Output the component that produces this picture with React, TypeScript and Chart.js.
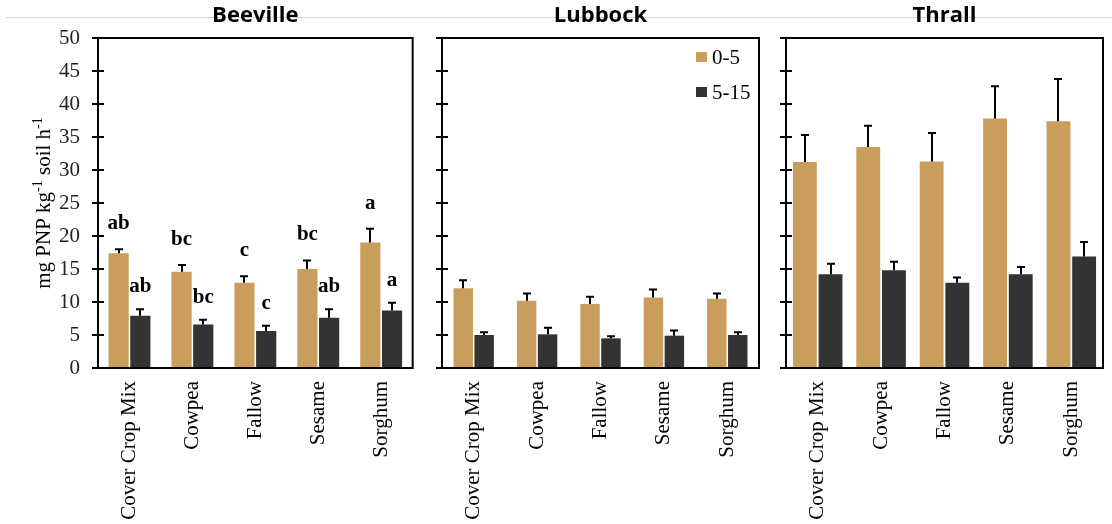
import React, { useEffect, useRef } from 'react';
import { Chart, registerables } from 'chart.js';

Chart.register(...registerables);

const categories = ['Cover Crop Mix', 'Cowpea', 'Fallow', 'Sesame', 'Sorghum'];
const depthLabels = ['0-5', '5-15'];
const yTicks = [0, 5, 10, 15, 20, 25, 30, 35, 40, 45, 50];

const beeville05 = [17.4, 14.6, 12.9, 15.0, 19.0];
const beeville05Err = [0.6, 1.0, 1.0, 1.3, 2.1];
const beeville515 = [7.9, 6.6, 5.6, 7.6, 8.7];
const beeville515Err = [1.0, 0.7, 0.8, 1.3, 1.2];
const beeville05Letters = ['ab', 'bc', 'c', 'bc', 'a'];
const beeville515Letters = ['ab', 'bc', 'c', 'ab', 'a'];

const lubbock05 = [12.1, 10.2, 9.7, 10.7, 10.5];
const lubbock05Err = [1.2, 1.1, 1.1, 1.2, 0.8];
const lubbock515 = [5.0, 5.1, 4.5, 4.9, 5.0];
const lubbock515Err = [0.4, 1.0, 0.3, 0.8, 0.4];

const thrall05 = [31.2, 33.5, 31.3, 37.8, 37.4];
const thrall05Err = [4.1, 3.2, 4.3, 4.9, 6.4];
const thrall515 = [14.2, 14.8, 12.9, 14.2, 16.9];
const thrall515Err = [1.6, 1.3, 0.8, 1.1, 2.2];

const TAN = '#C99D5C';
const DARK = '#333333';
const SERIF = '"Liberation Serif", "Times New Roman", serif';
const SANS = '"Open Sans", "Noto Sans", sans-serif';

type PanelProps = {
  title: string;
  left: number;
  width: number;
  yAxisWidth: number;
  padRight: number;
  catPct: number;
  v05: number[];
  e05: number[];
  v515: number[];
  e515: number[];
  l05?: string[];
  l515?: string[];
  showYLabels?: boolean;
  showYTitle?: boolean;
  showLegend?: boolean;
  lineStart: number;
};

const HEIGHT = 524;

function Panel(p: PanelProps) {
  const ref = useRef<HTMLCanvasElement | null>(null);
  useEffect(() => {
    if (!ref.current) return;
    const errs = [p.e05, p.e515];
    const letters = [p.l05, p.l515];
    const decor = {
      id: 'decor',
      beforeDraw(chart: any) {
        const ctx = chart.ctx;
        ctx.save();
        ctx.strokeStyle = '#d4d4d4';
        ctx.lineWidth = 1;
        ctx.beginPath();
        ctx.moveTo(p.lineStart, 17.5);
        ctx.lineTo(chart.width, 17.5);
        ctx.stroke();
        ctx.restore();
      },
      afterDatasetsDraw(chart: any) {
        const ctx = chart.ctx;
        const ys = chart.scales.y;
        ctx.save();
        ctx.strokeStyle = '#000';
        ctx.lineWidth = 2;
        chart.data.datasets.forEach((ds: any, i: number) => {
          const meta = chart.getDatasetMeta(i);
          meta.data.forEach((bar: any, j: number) => {
            const top = ys.getPixelForValue(ds.data[j] + errs[i][j]);
            const x = Math.round(bar.x);
            ctx.beginPath();
            ctx.moveTo(x, bar.y);
            ctx.lineTo(x, top);
            ctx.moveTo(x - 4, top);
            ctx.lineTo(x + 4, top);
            ctx.stroke();
            const lt = letters[i];
            if (lt) {
              ctx.fillStyle = '#000';
              ctx.font = `bold 21px ${SERIF}`;
              ctx.textAlign = 'center';
              ctx.textBaseline = 'alphabetic';
              ctx.fillText(lt[j], bar.x, top - (i === 0 ? 20 : 17));
            }
          });
        });
        ctx.restore();
      },
      afterDraw(chart: any) {
        const ctx = chart.ctx;
        const a = chart.chartArea;
        const ys = chart.scales.y;
        ctx.save();
        ctx.strokeStyle = '#000';
        ctx.lineWidth = 2;
        ctx.strokeRect(a.left, a.top, a.right - a.left, a.bottom - a.top);
        ctx.beginPath();
        yTicks.forEach((t) => {
          const y = Math.round(ys.getPixelForValue(t));
          ctx.moveTo(a.left - 6, y);
          ctx.lineTo(a.left + 6, y);
        });
        ctx.stroke();
        // title
        ctx.fillStyle = '#000';
        ctx.font = `bold 22px ${SANS}`;
        ctx.textAlign = 'center';
        ctx.textBaseline = 'middle';
        ctx.fillText(p.title, (a.left + a.right) / 2, 16);
        // y title
        if (p.showYTitle) {
          ctx.save();
          ctx.translate(50, (a.top + a.bottom) / 2);
          ctx.rotate(-Math.PI / 2);
          const parts: [string, boolean][] = [
            ['mg PNP kg', false],
            ['-1', true],
            [' soil h', false],
            ['-1', true],
          ];
          const fMain = `21px ${SERIF}`;
          const fSup = `14px ${SERIF}`;
          let total = 0;
          parts.forEach(([t, s]) => {
            ctx.font = s ? fSup : fMain;
            total += ctx.measureText(t).width;
          });
          let x = -total / 2;
          ctx.textAlign = 'left';
          ctx.textBaseline = 'alphabetic';
          ctx.fillStyle = '#000';
          parts.forEach(([t, s]) => {
            ctx.font = s ? fSup : fMain;
            ctx.fillText(t, x, s ? -8 : 0);
            x += ctx.measureText(t).width;
          });
          ctx.restore();
        }
        // legend
        if (p.showLegend) {
          const colors = [TAN, DARK];
          ctx.font = `21px ${SERIF}`;
          ctx.textAlign = 'left';
          ctx.textBaseline = 'middle';
          depthLabels.forEach((lab, i) => {
            const cy = a.top + 19 + i * 35;
            ctx.fillStyle = colors[i];
            ctx.fillRect(a.right - 63, cy - 5, 11, 10);
            ctx.fillStyle = '#000';
            ctx.fillText(lab, a.right - 47, cy + 1);
          });
        }
        ctx.restore();
      },
    };

    const chart = new Chart(ref.current, {
      type: 'bar',
      data: {
        labels: categories,
        datasets: [
          {
            label: depthLabels[0],
            data: p.v05,
            backgroundColor: TAN,
            categoryPercentage: p.catPct,
            barPercentage: 0.93,
          },
          {
            label: depthLabels[1],
            data: p.v515,
            backgroundColor: DARK,
            categoryPercentage: p.catPct,
            barPercentage: 0.93,
          },
        ],
      },
      options: {
        animation: false,
        responsive: false,
        maintainAspectRatio: false,
        layout: { padding: { top: 38, left: 0, right: p.padRight, bottom: 0 } },
        plugins: {
          legend: { display: false },
          title: { display: false },
          tooltip: { enabled: false },
        },
        scales: {
          x: {
            grid: { display: false, drawTicks: false },
            border: { display: false },
            ticks: {
              font: { family: SERIF, size: 21 },
              color: '#000',
              padding: 13,
              minRotation: 90,
              maxRotation: 90,
              autoSkip: false,
            },
            afterFit(scale: any) {
              scale.height = HEIGHT - 368;
            },
          },
          y: {
            min: 0,
            max: 50,
            grid: { display: false, drawTicks: false },
            border: { display: false },
            ticks: {
              display: !!p.showYLabels,
              stepSize: 5,
              font: { family: SERIF, size: 21 },
              color: '#222',
              padding: 18,
            },
            afterFit(scale: any) {
              scale.width = p.yAxisWidth;
            },
          },
        },
      },
      plugins: [decor],
    } as any);
    return () => chart.destroy();
  }, []);
  return (
    <canvas
      ref={ref}
      width={p.width}
      height={HEIGHT}
      style={{ position: 'absolute', left: p.left, top: 0, width: p.width, height: HEIGHT }}
    />
  );
}

export default function App() {
  return (
    <div style={{ position: 'absolute', left: 0, top: 0, width: 1112, height: HEIGHT, background: '#fff' }}>
      <Panel
        title="Beeville"
        left={0}
        width={420}
        yAxisWidth={98}
        padRight={6}
        catPct={0.69}
        v05={beeville05}
        e05={beeville05Err}
        v515={beeville515}
        e515={beeville515Err}
        l05={beeville05Letters}
        l515={beeville515Letters}
        showYLabels
        showYTitle
        lineStart={6}
      />
      <Panel
        title="Lubbock"
        left={420}
        width={350}
        yAxisWidth={22}
        padRight={11}
        catPct={0.66}
        v05={lubbock05}
        e05={lubbock05Err}
        v515={lubbock515}
        e515={lubbock515Err}
        showLegend
        lineStart={0}
      />
      <Panel
        title="Thrall"
        left={770}
        width={342}
        yAxisWidth={16}
        padRight={9}
        catPct={0.81}
        v05={thrall05}
        e05={thrall05Err}
        v515={thrall515}
        e515={thrall515Err}
        lineStart={0}
      />
    </div>
  );
}
